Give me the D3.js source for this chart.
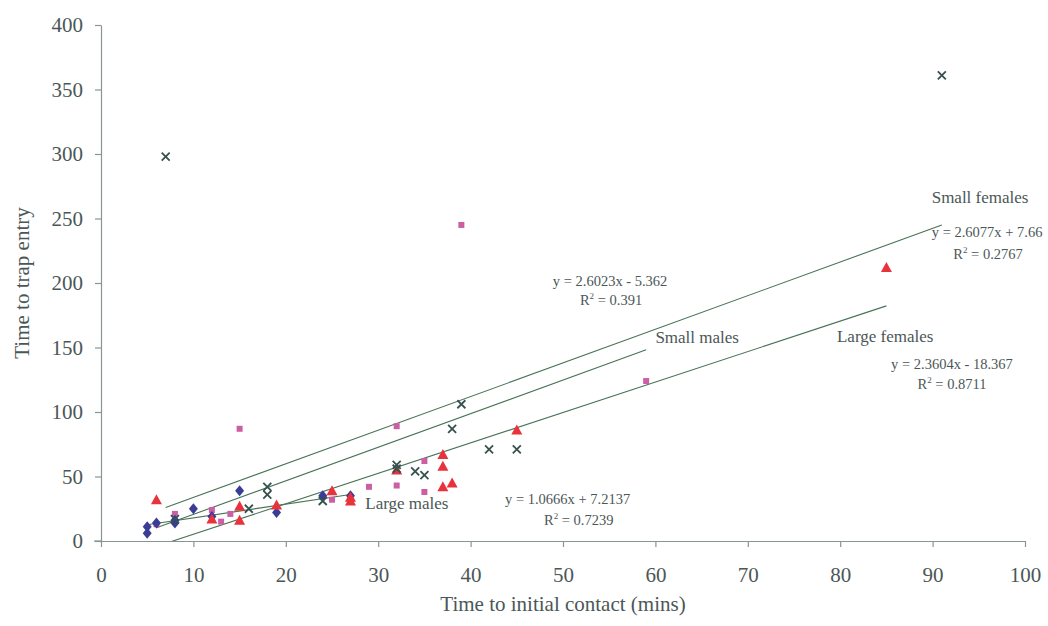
<!DOCTYPE html>
<html>
<head>
<meta charset="utf-8">
<script src="https://cdn.jsdelivr.net/npm/d3@7/dist/d3.min.js"></script>
<style>
  body { margin: 0; background: #fff; }
  svg { display: block; font-family: "Liberation Serif", "Times New Roman", serif; }
</style>
</head>
<body>
<svg id="chart" width="1048" height="626"></svg>
<script>
// ---- Data ----
const xTicks = [0, 10, 20, 30, 40, 50, 60, 70, 80, 90, 100];
const yTicks = [0, 50, 100, 150, 200, 250, 300, 350, 400];

const largeMalesX = [5, 5, 6, 8, 8, 10, 12, 15, 19, 24, 27];
const largeMalesY = [11, 6, 14, 16, 14, 25, 19, 39, 22, 35, 35];

const smallMalesX = [6, 8, 12, 13, 14, 15, 25, 29, 32, 32, 35, 35, 39, 59];
const smallMalesY = [13, 21, 24, 15, 21, 87, 32, 42, 43, 89, 62, 38, 245, 124];

const largeFemalesX = [6, 12, 15, 15, 19, 25, 27, 27, 32, 37, 37, 37, 38, 45, 85];
const largeFemalesY = [32, 17, 27, 16, 28, 39, 34, 31, 55, 67, 58, 42, 45, 86, 212];

const smallFemalesX = [7, 8, 16, 18, 18, 24, 32, 32, 34, 35, 38, 39, 42, 45, 91];
const smallFemalesY = [298, 17, 25, 42, 36, 31, 59, 56, 54, 51, 87, 106, 71, 71, 361];

// trend lines: slope, intercept, x range
const trendNames = ["Large males", "Small males", "Large females", "Small females"];
const trendSlope = [1.0666, 2.6023, 2.3604, 2.6077];
const trendIntercept = [7.2137, -5.362, -18.367, 7.66];
const trendXMin = [5, 6, 6, 7];
const trendXMax = [27, 59, 85, 91];
const trendEq = ["y = 1.0666x + 7.2137", "y = 2.6023x - 5.362", "y = 2.3604x - 18.367", "y = 2.6077x + 7.66"];
const trendR2 = ["0.7239", "0.391", "0.8711", "0.2767"];

// ---- Layout ----
const svg = d3.select("#chart");
const M = { left: 101, top: 25, right: 1025, bottom: 541 };
const x = d3.scaleLinear().domain([0, 100]).range([M.left, M.right]);
const y = d3.scaleLinear().domain([0, 400]).range([M.bottom, M.top]);

const textColor = "#4b5757";
const axisColor = "#8a9494";
const lineColor = "#4a7357";

// annotation anchors in data units
const labelPos = [[28.6, 24.8], [60.0, 153.5], [79.65, 154.3], [89.9, 262]];
const eqPos = [[50.5, 28.7], [55.1, 197.7], [92.1, 133.3], [95.9, 235.7]];
const r2Pos = [[51.7, 12.4], [55.2, 183], [92.1, 117.8], [96.0, 218.6]];

// clip
svg.append("defs").append("clipPath").attr("id", "plotclip")
  .append("rect").attr("x", M.left).attr("y", M.top)
  .attr("width", M.right - M.left).attr("height", M.bottom - M.top);

// axes
const xAxis = d3.axisBottom(x).tickValues(xTicks).tickSize(6).tickSizeOuter(0).tickPadding(20);
const yAxis = d3.axisLeft(y).tickValues(yTicks).tickSize(6).tickSizeOuter(0).tickPadding(12);

const gx = svg.append("g").attr("transform", `translate(0,${M.bottom})`).call(xAxis);
const gy = svg.append("g").attr("transform", `translate(${M.left},0)`).call(yAxis);
[gx, gy].forEach(g => {
  g.select(".domain").attr("stroke", axisColor).attr("stroke-width", 1.2);
  g.selectAll(".tick line").attr("stroke", axisColor).attr("stroke-width", 1.2);
  g.selectAll(".tick text").attr("fill", textColor)
    .style("font-family", '"Liberation Serif", "Times New Roman", serif')
    .style("font-size", "21px");
});
// extend x axis line slightly left as in reference
gx.append("line").attr("x1", M.left - 7).attr("x2", M.left).attr("y1", 0).attr("y2", 0)
  .attr("stroke", axisColor).attr("stroke-width", 1.2);

// axis titles
svg.append("text").attr("x", (M.left + M.right) / 2).attr("y", 611)
  .attr("text-anchor", "middle").attr("fill", textColor).style("font-size", "21px")
  .text("Time to initial contact (mins)");
svg.append("text").attr("transform", `translate(29,${(M.top + M.bottom) / 2}) rotate(-90)`)
  .attr("text-anchor", "middle").attr("fill", textColor).style("font-size", "21px")
  .text("Time to trap entry");

// points
const plot = svg.append("g").attr("clip-path", "url(#plotclip)");
const zip = (xs, ys) => xs.map((v, i) => ({ x: v, y: ys[i] }));

// trend lines
const tl = plot.append("g");
trendSlope.forEach((a, i) => {
  const b = trendIntercept[i];
  tl.append("line")
    .attr("x1", x(trendXMin[i])).attr("y1", y(a * trendXMin[i] + b))
    .attr("x2", x(trendXMax[i])).attr("y2", y(a * trendXMax[i] + b))
    .attr("stroke", lineColor).attr("stroke-width", 1.1);
});

// small males: pink squares
plot.append("g").selectAll("rect").data(zip(smallMalesX, smallMalesY)).join("rect")
  .attr("x", d => x(d.x) - 3).attr("y", d => y(d.y) - 3)
  .attr("width", 6).attr("height", 6).attr("fill", "#cc5fa3");

// large males: blue diamonds
plot.append("g").selectAll("path").data(zip(largeMalesX, largeMalesY)).join("path")
  .attr("d", d => {
    const cx = x(d.x), cy = y(d.y);
    return `M${cx},${cy - 5.5}L${cx + 4.5},${cy}L${cx},${cy + 5.5}L${cx - 4.5},${cy}Z`;
  })
  .attr("fill", "#3a3d96");

// large females: red triangles
plot.append("g").selectAll("path").data(zip(largeFemalesX, largeFemalesY)).join("path")
  .attr("d", d => {
    const cx = x(d.x), cy = y(d.y);
    return `M${cx},${cy - 5.5}L${cx + 5.5},${cy + 4.5}L${cx - 5.5},${cy + 4.5}Z`;
  })
  .attr("fill", "#e8323c");

// small females: dark crosses
plot.append("g").selectAll("path").data(zip(smallFemalesX, smallFemalesY)).join("path")
  .attr("d", d => {
    const cx = x(d.x), cy = y(d.y), s = 4;
    return `M${cx - s},${cy - s}L${cx + s},${cy + s}M${cx - s},${cy + s}L${cx + s},${cy - s}`;
  })
  .attr("stroke", "#35524e").attr("stroke-width", 1.8).attr("fill", "none");

// annotations
const ann = svg.append("g").attr("fill", textColor);
trendNames.forEach((n, i) => {
  ann.append("text").attr("x", x(labelPos[i][0])).attr("y", y(labelPos[i][1]))
    .style("font-size", "17px").text(n);
  ann.append("text").attr("x", x(eqPos[i][0])).attr("y", y(eqPos[i][1]))
    .attr("text-anchor", "middle").style("font-size", "14.5px").text(trendEq[i]);
  const t = ann.append("text").attr("x", x(r2Pos[i][0])).attr("y", y(r2Pos[i][1]))
    .attr("text-anchor", "middle").style("font-size", "14.5px");
  t.append("tspan").text("R");
  t.append("tspan").attr("dy", -6).style("font-size", "9px").text("2");
  t.append("tspan").attr("dy", 6).text(" = " + trendR2[i]);
});
</script>
</body>
</html>
